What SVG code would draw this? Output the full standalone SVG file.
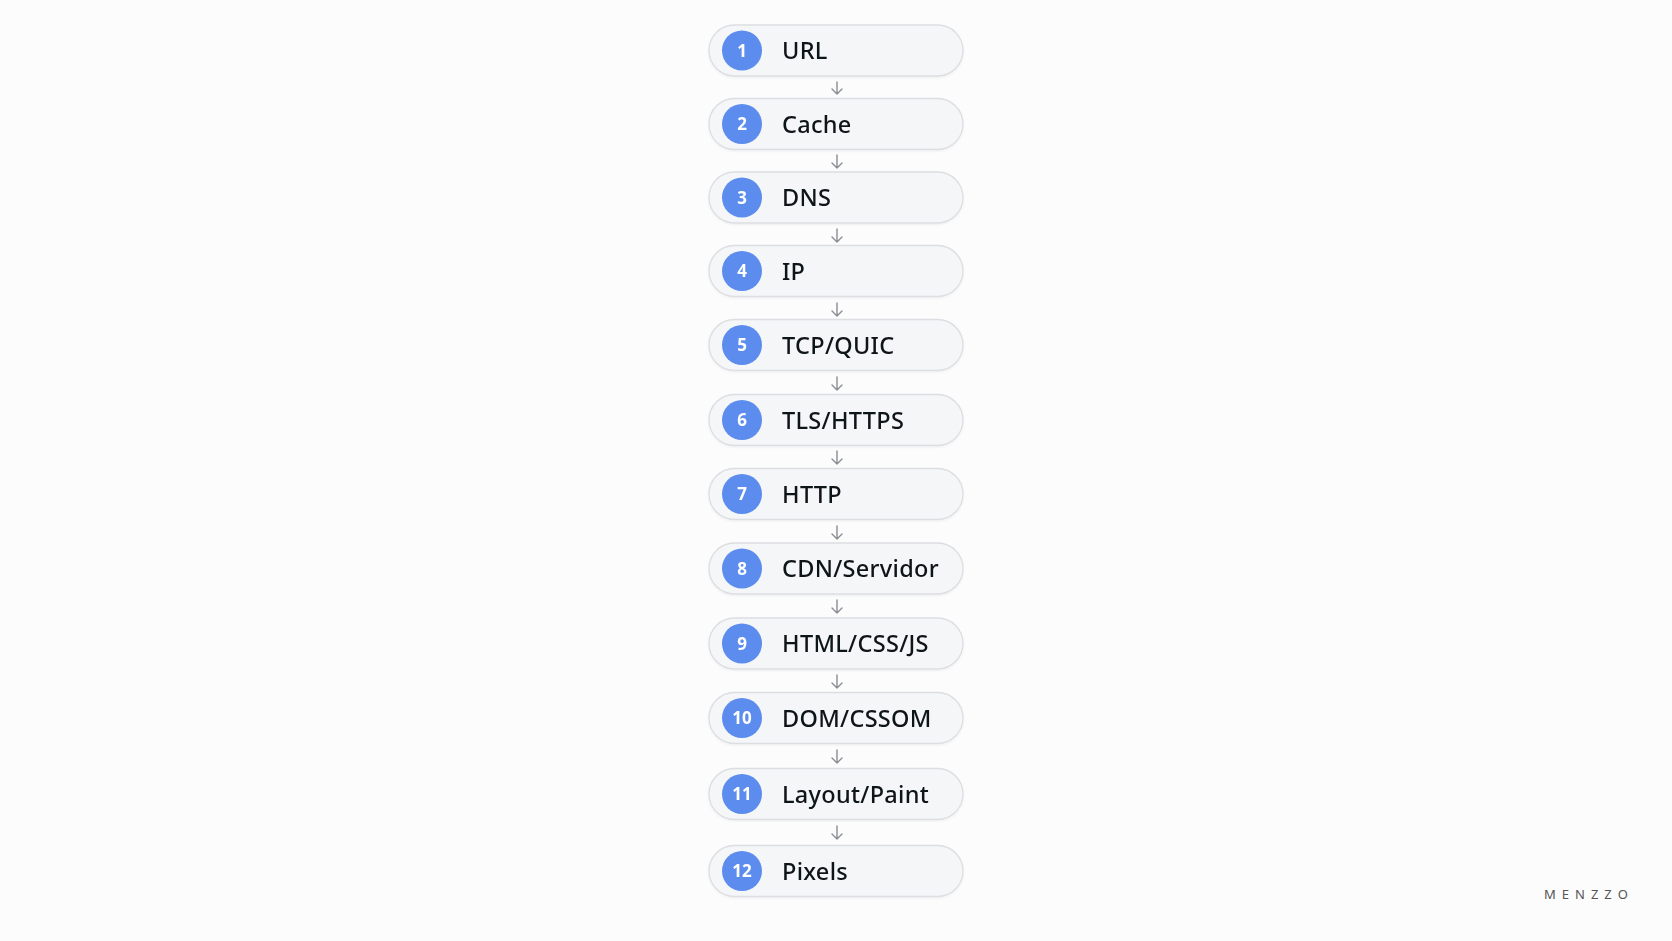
<svg xmlns="http://www.w3.org/2000/svg" width="1672" height="941" viewBox="0 0 1672 941">
<defs>
<style>
.pill{fill:#f5f6f8;stroke:#dcdee2;stroke-width:1.3}
.badge{fill:#5b8cee}
.num{font-family:"Noto Sans",sans-serif;font-weight:700;font-size:17px;fill:#fff;text-anchor:middle}
.lbl{font-family:"Noto Sans",sans-serif;font-weight:500;font-size:23.5px;fill:#111317;letter-spacing:0.3px}
.arr{fill:none;stroke:#8a8d93;stroke-width:1.4;stroke-linecap:round;stroke-linejoin:round}
.brand{font-family:"Noto Sans",sans-serif;font-size:13px;fill:#555;letter-spacing:6px}
</style>
<filter id="sh" x="-10%" y="-30%" width="120%" height="160%"><feDropShadow dx="0" dy="1" stdDeviation="1.2" flood-color="#000" flood-opacity="0.06"/></filter>
</defs>
<rect width="1672" height="941" fill="#fcfcfd"/>
<g id="connectors">
<path class="arr" d="M837 82V94M832 89L837 94L842 89"/>
<path class="arr" d="M837 155V168M832 163L837 168L842 163"/>
<path class="arr" d="M837 229V242M832 237L837 242L842 237"/>
<path class="arr" d="M837 303V316M832 311L837 316L842 311"/>
<path class="arr" d="M837 377V390M832 385L837 390L842 385"/>
<path class="arr" d="M837 451V464M832 459L837 464L842 459"/>
<path class="arr" d="M837 526V539M832 534L837 539L842 534"/>
<path class="arr" d="M837 600V613M832 608L837 613L842 608"/>
<path class="arr" d="M837 675V688M832 683L837 688L842 683"/>
<path class="arr" d="M837 750V763M832 758L837 763L842 758"/>
<path class="arr" d="M837 826V839M832 834L837 839L842 834"/>
</g>
<g id="n1" filter="url(#sh)"><rect class="pill" x="709" y="25" width="254" height="51" rx="25.5"/><circle class="badge" cx="742" cy="50.5" r="20"/><text class="num" x="742" y="56.5">1</text><text class="lbl" x="782" y="59">URL</text></g>
<g id="n2" filter="url(#sh)"><rect class="pill" x="709" y="98.5" width="254" height="51" rx="25.5"/><circle class="badge" cx="742" cy="124" r="20"/><text class="num" x="742" y="130">2</text><text class="lbl" x="782" y="132.5">Cache</text></g>
<g id="n3" filter="url(#sh)"><rect class="pill" x="709" y="172" width="254" height="51" rx="25.5"/><circle class="badge" cx="742" cy="197.5" r="20"/><text class="num" x="742" y="203.5">3</text><text class="lbl" x="782" y="206">DNS</text></g>
<g id="n4" filter="url(#sh)"><rect class="pill" x="709" y="245.5" width="254" height="51" rx="25.5"/><circle class="badge" cx="742" cy="271" r="20"/><text class="num" x="742" y="277">4</text><text class="lbl" x="782" y="279.5">IP</text></g>
<g id="n5" filter="url(#sh)"><rect class="pill" x="709" y="319.5" width="254" height="51" rx="25.5"/><circle class="badge" cx="742" cy="345" r="20"/><text class="num" x="742" y="351">5</text><text class="lbl" x="782" y="353.5">TCP/QUIC</text></g>
<g id="n6" filter="url(#sh)"><rect class="pill" x="709" y="394.5" width="254" height="51" rx="25.5"/><circle class="badge" cx="742" cy="420" r="20"/><text class="num" x="742" y="426">6</text><text class="lbl" x="782" y="428.5">TLS/HTTPS</text></g>
<g id="n7" filter="url(#sh)"><rect class="pill" x="709" y="468.5" width="254" height="51" rx="25.5"/><circle class="badge" cx="742" cy="494" r="20"/><text class="num" x="742" y="500">7</text><text class="lbl" x="782" y="502.5">HTTP</text></g>
<g id="n8" filter="url(#sh)"><rect class="pill" x="709" y="543" width="254" height="51" rx="25.5"/><circle class="badge" cx="742" cy="568.5" r="20"/><text class="num" x="742" y="574.5">8</text><text class="lbl" x="782" y="577">CDN/Servidor</text></g>
<g id="n9" filter="url(#sh)"><rect class="pill" x="709" y="618" width="254" height="51" rx="25.5"/><circle class="badge" cx="742" cy="643.5" r="20"/><text class="num" x="742" y="649.5">9</text><text class="lbl" x="782" y="652">HTML/CSS/JS</text></g>
<g id="n10" filter="url(#sh)"><rect class="pill" x="709" y="692.5" width="254" height="51" rx="25.5"/><circle class="badge" cx="742" cy="718" r="20"/><text class="num" x="742" y="724">10</text><text class="lbl" x="782" y="726.5">DOM/CSSOM</text></g>
<g id="n11" filter="url(#sh)"><rect class="pill" x="709" y="768.5" width="254" height="51" rx="25.5"/><circle class="badge" cx="742" cy="794" r="20"/><text class="num" x="742" y="800">11</text><text class="lbl" x="782" y="802.5">Layout/Paint</text></g>
<g id="n12" filter="url(#sh)"><rect class="pill" x="709" y="845.5" width="254" height="51" rx="25.5"/><circle class="badge" cx="742" cy="871" r="20"/><text class="num" x="742" y="877">12</text><text class="lbl" x="782" y="879.5">Pixels</text></g>
<text class="brand" x="1544" y="899">MENZZO</text>
</svg>
